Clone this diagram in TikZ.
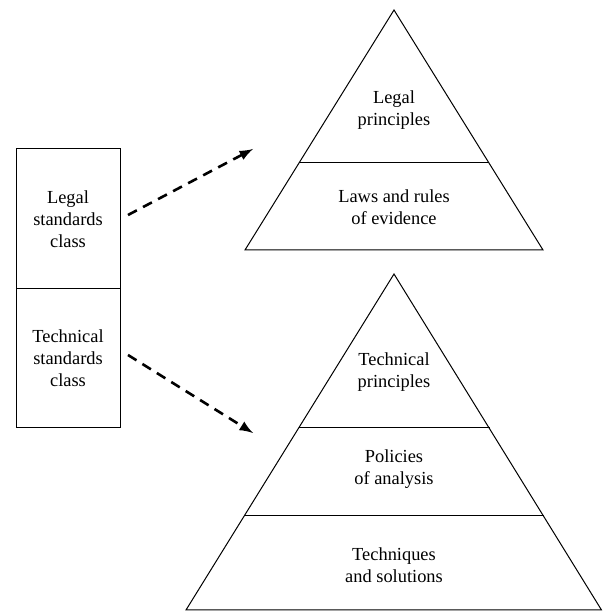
\documentclass[tikz,border=0pt]{standalone}
\usepackage{fontspec}
\setmainfont{Liberation Serif}
\usepackage{tikz}
\usetikzlibrary{arrows}

\tikzset{
	label/.style={align=center,font=\fontsize{9.2}{11}\selectfont},
	cell/.style={rectangle,draw,line width=0.5pt,minimum width=52pt,minimum height=69.75pt,label},
	link/.style={line width=1.3pt,dash pattern=on 5pt off 3.5pt,-latex}
}

\begin{document}
\begin{tikzpicture}[x=0.5pt,y=0.5pt,line width=0.5pt]
		\useasboundingbox (0,0) rectangle (602,611);
%		\draw[help lines] (0,0) grid (602,611);
		\path (68,392.25) node(legal) [cell] {Legal\\standards\\class};
		\path (68,252.75) node(tech) [cell] {Technical\\standards\\class};
		\path (128,396) coordinate (legal_out);
		\path (253,462) coordinate (legal_in);
		\path (128,256) coordinate (tech_out);
		\path (253,178) coordinate (tech_in);

		\path (394,601) coordinate (top1);
		\path (245,361) coordinate (lb1);
		\path (543,361) coordinate (rb1);
		\path (299,448) coordinate (lm1);
		\path (489,448) coordinate (rm1);
		\path (394,337) coordinate (top2);
		\path (299,183) coordinate (lm2);
		\path (490,183) coordinate (rm2);
		\path (244,95) coordinate (ll2);
		\path (544,95) coordinate (rl2);
		\path (186,1) coordinate (lb2);
		\path (601.5,1) coordinate (rb2);

		\draw (top1) -- (lb1) -- (rb1) -- cycle;
		\draw (lm1) -- (rm1);
		\draw (top2) -- (lb2) -- (rb2) -- cycle;
		\draw (lm2) -- (rm2);
		\draw (ll2) -- (rl2);

		\path (394,501) node(legal_princ) [label] {Legal\\principles};
		\path (394,404) node(laws) [label] {Laws and rules\\of evidence};
		\path (394,239) node(tech_princ) [label] {Technical\\principles};
		\path (394,142) node(policies) [label] {Policies\\of analysis};
		\path (394,46) node(techniques) [label] {Techniques\\and solutions};

		\draw[link] (legal_out) -- (legal_in);
		\draw[link] (tech_out) -- (tech_in);
	\end{tikzpicture}
\end{document}
